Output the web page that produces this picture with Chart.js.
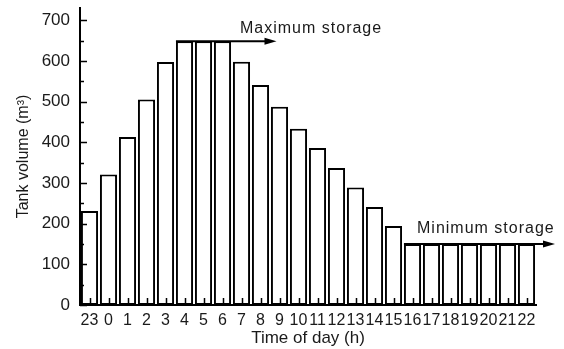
<!DOCTYPE html>
<html>
<head>
<meta charset="utf-8">
<style>
    body { margin: 0; background: #fff; }
    #wrap { width: 564px; height: 349px; position: relative; }
</style>
</head>
<body>
<div id="wrap"><canvas id="tankChart"></canvas></div>

<script src="https://cdn.jsdelivr.net/npm/chart.js"></script>
<script>
    // hour labels, starting the day at 23h
    const hours = ['23', '0', '1', '2', '3', '4', '5', '6', '7', '8', '9', '10', '11',
        '12', '13', '14', '15', '16', '17', '18', '19', '20', '21', '22'];
    const tankVolume = [231, 321, 413, 505, 597, 648, 648, 648, 598, 541, 487, 433, 386,
        337, 289, 241, 194, 150, 150, 150, 150, 150, 150, 150];
    const yTicks = [0, 100, 200, 300, 400, 500, 600, 700];
    const maxStorage = 648;
    const minStorage = 150;

    const FONT = 'Arial, "Liberation Sans", sans-serif';
    const INK = '#1a1a1a';

    // small inside ticks like the original plot (drawn over the bars)
    const innerTicks = {
        id: 'innerTicks',
        afterDatasetsDraw(chart) {
            const { ctx, chartArea, scales: { x, y } } = chart;
            ctx.save();
            ctx.strokeStyle = '#000';
            ctx.lineWidth = 1.5;
            ctx.beginPath();
            hours.forEach((h, i) => {
                const px = Math.round(x.getPixelForValue(i)) + 0.5;
                ctx.moveTo(px, chartArea.bottom);
                ctx.lineTo(px, chartArea.bottom - 7);
            });
            for (let v = 0; v <= 700; v += 50) {
                const py = Math.round(y.getPixelForValue(v)) + 0.5;
                ctx.moveTo(chartArea.left, py);
                ctx.lineTo(chartArea.left + (v % 100 === 0 ? 7 : 4), py);
            }
            ctx.stroke();
            ctx.restore();
        }
    };

    function arrow(ctx, x0, x1, yy) {
        ctx.beginPath();
        ctx.moveTo(x0, yy);
        ctx.lineTo(x1 - 10, yy);
        ctx.stroke();
        ctx.beginPath();
        ctx.moveTo(x1, yy);
        ctx.lineTo(x1 - 12, yy - 3.5);
        ctx.lineTo(x1 - 12, yy + 3.5);
        ctx.closePath();
        ctx.fill();
    }

    // max / min storage arrows with their notes
    const storageNotes = {
        id: 'storageNotes',
        afterDraw(chart) {
            const { ctx, chartArea, scales: { x, y } } = chart;
            const half = x.getPixelForValue(1) - x.getPixelForValue(0);
            ctx.save();
            ctx.strokeStyle = '#000';
            ctx.fillStyle = '#000';
            ctx.lineWidth = 2;

            const yMax = y.getPixelForValue(maxStorage);
            arrow(ctx, x.getPixelForValue(5) - half * 0.45, x.getPixelForValue(10) - 3, yMax);

            const yMin = y.getPixelForValue(minStorage);
            arrow(ctx, x.getPixelForValue(17) - half * 0.45, chartArea.right + 19, yMin);

            ctx.fillStyle = INK;
            ctx.font = '16px ' + FONT;
            ctx.letterSpacing = '1px';
            ctx.textAlign = 'left';
            ctx.textBaseline = 'alphabetic';
            ctx.fillText('Maximum storage', 240, 33);
            ctx.fillText('Minimum storage', 417, 233);
            ctx.restore();
        }
    };

    new Chart(document.getElementById('tankChart'), {
        type: 'bar',
        data: {
            labels: hours,
            datasets: [{
                data: tankVolume,
                backgroundColor: '#ffffff',
                borderColor: '#000000',
                borderWidth: 2,
                borderSkipped: false,
                barPercentage: 1,
                categoryPercentage: 0.9
            }]
        },
        options: {
            responsive: true,
            maintainAspectRatio: false,
            animation: false,
            layout: { padding: { top: 8, right: 28, bottom: 0, left: 0 } },
            plugins: {
                legend: { display: false },
                tooltip: { enabled: false }
            },
            scales: {
                x: {
                    grid: { display: false, drawTicks: false },
                    border: { display: true, color: '#000', width: 2 },
                    ticks: {
                        autoSkip: false,
                        maxRotation: 0,
                        padding: 6,
                        color: INK,
                        font: { family: FONT, size: 16 }
                    },
                    title: {
                        display: true,
                        text: 'Time of day (h)',
                        color: INK,
                        font: { family: FONT, size: 17 },
                        padding: { top: 0, bottom: 0 }
                    },
                    afterFit: s => { s.height = 44; s.paddingLeft = 0; s.paddingRight = 0; }
                },
                y: {
                    min: 0,
                    max: 730,
                    grid: { display: false, drawTicks: false },
                    border: { display: true, color: '#000', width: 2 },
                    afterBuildTicks: s => { s.ticks = yTicks.map(v => ({ value: v })); },
                    ticks: {
                        padding: 10,
                        color: INK,
                        font: { family: FONT, size: 17 }
                    },
                    title: {
                        display: true,
                        text: 'Tank volume (m³)',
                        color: INK,
                        font: { family: FONT, size: 16 },
                        padding: { top: 14, bottom: 0 }
                    },
                    afterFit: s => { s.width = 80; s.paddingTop = 0; s.paddingBottom = 0; }
                }
            }
        },
        plugins: [innerTicks, storageNotes]
    });
</script>
</body>
</html>
